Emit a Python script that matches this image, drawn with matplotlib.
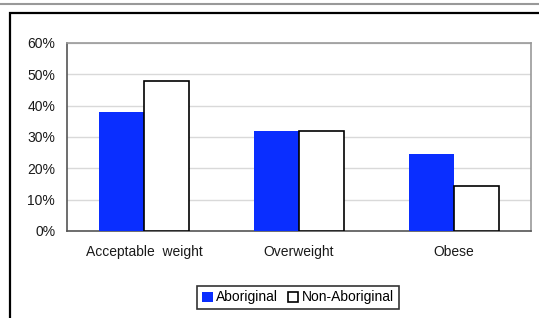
import matplotlib.pyplot as plt
import numpy as np
from matplotlib.patches import Rectangle
from matplotlib.lines import Line2D

plt.rcParams['font.family'] = ['Liberation Sans', 'DejaVu Sans']

# data
categories = ['Acceptable  weight', 'Overweight', 'Obese']
aboriginal = [38.0, 32.0, 24.5]
non_aboriginal = [48.0, 31.8, 14.5]
yticks = [0, 10, 20, 30, 40, 50, 60]

W, H = 539, 318
fig = plt.figure(figsize=(W / 100, H / 100), dpi=100)

# gray rule at the top and the black outer frame
fig.add_artist(Line2D([0, 1], [1 - 3.5 / H, 1 - 3.5 / H], color='#999999', lw=1.5,
                      transform=fig.transFigure))
fig.add_artist(Rectangle((10 / W, -0.1), 1.0, 1 - 13 / H + 0.1, fill=False,
                         edgecolor='black', lw=1.6, transform=fig.transFigure))

ax = fig.add_axes([67 / W, 1 - 231 / H, (531 - 67) / W, (231 - 43) / H])
x = np.arange(len(categories))
w = 0.29
ax.bar(x - w / 2, aboriginal, w, color='#0a2eff', edgecolor='#0a2eff', lw=0,
       label='Aboriginal', zorder=3)
ax.bar(x + w / 2, non_aboriginal, w, color='white', edgecolor='black', lw=1.2,
       label='Non-Aboriginal', zorder=3)

ax.set_xlim(-0.5, 2.5)
ax.set_ylim(0, 60)
ax.set_yticks(yticks)
ax.set_yticklabels([f'{t}%' for t in yticks])
ax.set_xticks(x)
ax.set_xticklabels(categories)
ax.tick_params(length=0, labelsize=10, colors='#1a1a1a')
ax.tick_params(axis='x', pad=10)
ax.tick_params(axis='y', pad=8.5)
ax.yaxis.grid(True, color='#d9d9d9', lw=1)
ax.set_axisbelow(True)
for s in ['top', 'right']:
    ax.spines[s].set_color('#999999')
    ax.spines[s].set_linewidth(1.2)
for s in ['left', 'bottom']:
    ax.spines[s].set_color('#555555')
    ax.spines[s].set_linewidth(1.2)

leg = fig.legend(loc='center', bbox_to_anchor=(298 / W, 1 - 297.5 / H), ncol=2,
                 fontsize=10, frameon=True, fancybox=False, edgecolor='black',
                 handlelength=0.75, handleheight=0.75, handletextpad=0.25,
                 columnspacing=0.7, borderpad=0.35, borderaxespad=0)
leg.get_frame().set_linewidth(1.2)

plt.savefig('out.png', dpi=100)
